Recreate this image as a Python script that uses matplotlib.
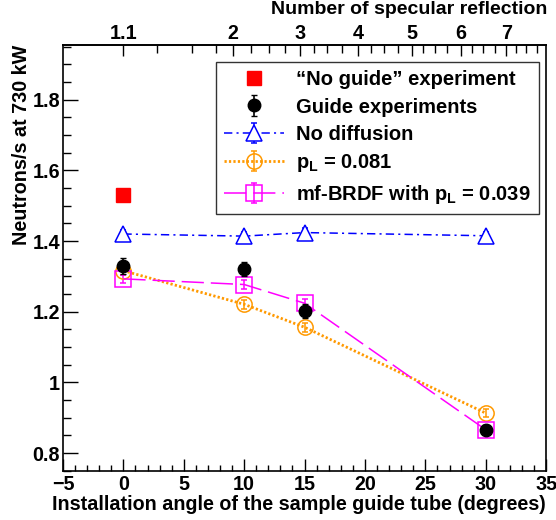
import matplotlib
matplotlib.use("Agg")
import matplotlib.pyplot as plt
from matplotlib.ticker import MultipleLocator, FixedLocator, FuncFormatter

plt.rcParams['font.family'] = ['Liberation Sans', 'DejaVu Sans']
plt.rcParams['font.weight'] = 'bold'
plt.rcParams['axes.labelweight'] = 'bold'
plt.rcParams['mathtext.fontset'] = 'custom'
plt.rcParams['mathtext.rm'] = 'Liberation Sans:bold'
plt.rcParams['mathtext.it'] = 'Liberation Sans:bold'
plt.rcParams['mathtext.bf'] = 'Liberation Sans:bold'
plt.rcParams['lines.scale_dashes'] = False

FS = 14.2

# installation angle (degrees)
angles = [0, 10, 15, 30]

# measurements
noguide_x = [0]
noguide_y = [1.53]
guide_y = [1.330, 1.320, 1.203, 0.866]
guide_err = [0.022, 0.020, 0.020, 0.012]

# simulations
nodiff_y = [1.420, 1.414, 1.424, 1.415]
pl081_y = [1.316, 1.221, 1.156, 0.913]
brdf_y = [1.293, 1.277, 1.224, 0.866]
sim_err = [0.012, 0.012, 0.012, 0.012]

# top axis: number of specular reflection, placed at the matching angle
spec_labels = ['1.1', '2', '3', '4', '5', '6', '7']
spec_angles = [0, 9.06, 14.63, 19.45, 23.89, 27.92, 31.71]
spec_minor = [2.75, 5.68, 7.69, 10.58, 12.03, 13.38, 15.79, 16.89, 18.12,
              20.46, 21.56, 22.74, 24.79, 25.82, 26.83, 28.89, 29.79, 30.76,
              32.54, 33.36, 34.27]

fig = plt.figure(figsize=(5.56, 5.20), dpi=100)
ax = fig.add_axes([0.1133, 0.0948, 0.869, 0.8187])

h_nodiff = ax.errorbar(angles, nodiff_y, yerr=sim_err, color='#0000ff', marker='^', ms=12,
                       mfc='white', mec='#0000ff', mew=1.1, lw=1.1, dashes=(6, 3, 1.5, 3),
                       capsize=2.5, elinewidth=1.1, zorder=3)
h_pl = ax.errorbar(angles, pl081_y, yerr=sim_err, color='#ff9900', marker='o', ms=11,
                   mfc='none', mec='#ff9900', mew=1.1, lw=2.0, dashes=(1.6, 1.6),
                   capsize=2.5, elinewidth=1.1, zorder=3)
h_brdf = ax.errorbar(angles, brdf_y, yerr=sim_err, color='#ff00ff', marker='s', ms=12,
                     mfc='none', mec='#ff00ff', mew=1.1, lw=1.1, dashes=(16, 5),
                     capsize=2.5, elinewidth=1.1, zorder=3)
h_guide = ax.errorbar(angles, guide_y, yerr=guide_err, color='black', marker='o', ms=9,
                      ls='none', capsize=2.5, elinewidth=1.2, zorder=4)
h_noguide, = ax.plot(noguide_x, noguide_y, ls='none', marker='s', ms=10.5, color='#ff0000',
                     zorder=4)

ax.set_xlim(-5, 35)
ax.set_ylim(0.75, 1.955)

ax.xaxis.set_major_locator(MultipleLocator(5))
ax.xaxis.set_minor_locator(MultipleLocator(1))
ax.yaxis.set_major_locator(MultipleLocator(0.2))
ax.yaxis.set_minor_locator(MultipleLocator(0.05))
ax.yaxis.set_major_formatter(FuncFormatter(lambda v, p: ('%g' % round(v, 2))))
ax.tick_params(axis='x', which='major', direction='in', length=8.5, width=1, labelsize=FS, pad=3)
ax.tick_params(axis='x', which='minor', direction='in', length=4.3, width=1)
ax.tick_params(axis='y', which='major', direction='in', length=10.5, width=1, labelsize=FS, pad=2)
ax.tick_params(axis='y', which='minor', direction='in', length=5.5, width=1)
for s in ax.spines.values():
    s.set_linewidth(1.2)

ax.set_xlabel('Installation angle of the sample guide tube (degrees)', fontsize=FS,
              fontweight='bold', loc='right', labelpad=1)
ax.set_ylabel('Neutrons/s at 730 kW', fontsize=FS, fontweight='bold', loc='top', labelpad=1)

top = ax.secondary_xaxis('top')
top.xaxis.set_major_locator(FixedLocator(spec_angles))
top.xaxis.set_minor_locator(FixedLocator(spec_minor))
top.set_xticklabels(spec_labels, fontweight='bold')
top.tick_params(axis='x', which='major', direction='in', length=8, width=1, labelsize=FS, pad=1.5)
top.tick_params(axis='x', which='minor', direction='in', length=5.5, width=1)
top.spines['top'].set_linewidth(1.2)
fig.text(547 / 556, 1 - 0.5 / 520, 'Number of specular reflection', fontsize=14,
         fontweight='bold', ha='right', va='top')

leg = ax.legend([h_noguide, h_guide, h_nodiff, h_pl, h_brdf],
                ['\u201cNo guide\u201d experiment', 'Guide experiments', 'No diffusion',
                 r'$p_L$ = 0.081', r'mf-BRDF with $p_L$ = 0.039'],
                loc='upper right', bbox_to_anchor=(0.985, 0.960), fontsize=14.5,
                frameon=True, fancybox=False, edgecolor='black', handlelength=3.0,
                handletextpad=0.6, labelspacing=0.42, borderpad=0.4,
                borderaxespad=0)
leg.get_frame().set_linewidth(1.0)

fig.canvas.draw()
for lab in (ax.get_xticklabels() + ax.get_yticklabels() + top.get_xticklabels()):
    lab.set_fontweight('bold')

fig.savefig('out.png', dpi=100)
